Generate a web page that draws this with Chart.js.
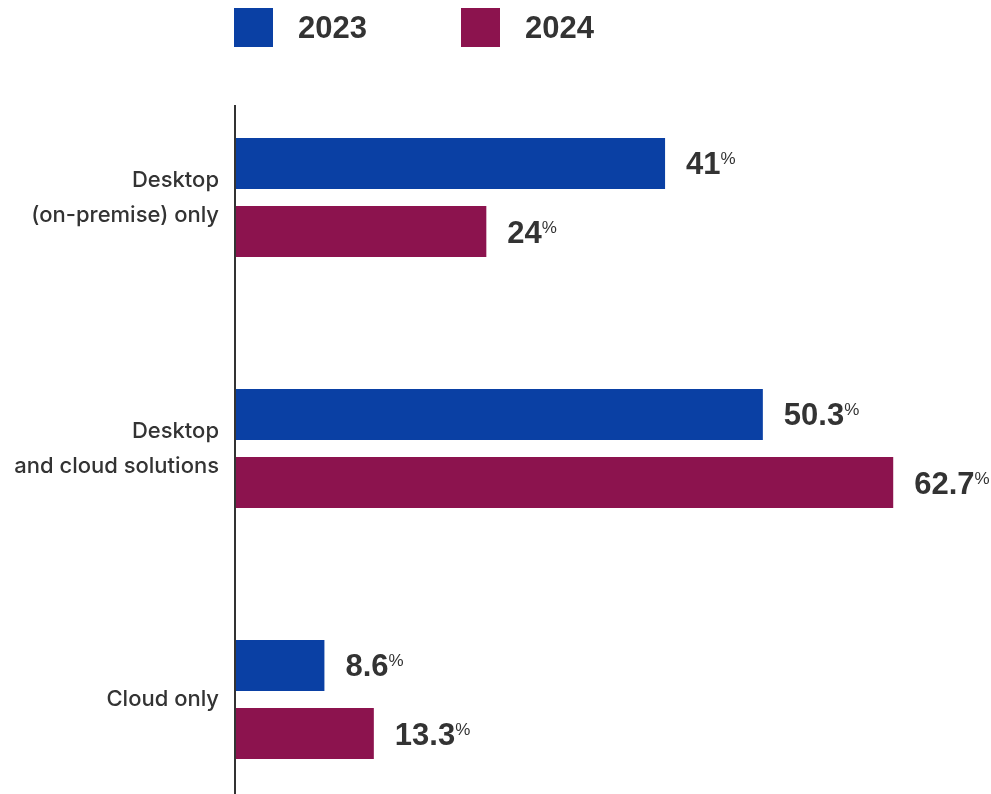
<!DOCTYPE html>
<html>
<head>
<meta charset="utf-8">
<title>Desktop vs cloud</title>
<script src="https://cdn.jsdelivr.net/npm/chart.js@4.4.1/dist/chart.umd.min.js"></script>
<style>
  html, body { margin: 0; padding: 0; background: #fff; overflow: hidden; }
  #wrap { position: relative; width: 991px; height: 830px; }
  #chart { display: block; }
  #legend { position: absolute; left: 234px; top: 8px; display: flex; }
  .item { display: flex; align-items: center; width: 227px; }
  .swatch { width: 39px; height: 39px; margin-right: 25px; }
  .item span { font: bold 31px "Liberation Sans", Arial, sans-serif; color: #333; line-height: 1; }
</style>
</head>
<body>
<div id="wrap">
  <canvas id="chart" width="991" height="830"></canvas>
  <div id="legend"></div>
</div>
<script>
const categories = [["Desktop", "(on-premise) only"], ["Desktop", "and cloud solutions"], ["Cloud only"]];
const years = ["2023", "2024"];
const values2023 = [41, 50.3, 8.6];
const values2024 = [24, 62.7, 13.3];
const colors = ["#0a40a4", "#8c134e"];
const textColor = "#333";

// legend boxes above the plot
let legend = document.getElementById("legend");
years.forEach((y, i) => {
  let item = document.createElement("div");
  item.className = "item";
  item.innerHTML = `<div class="swatch" style="background:${colors[i]}"></div><span>${y}</span>`;
  legend.appendChild(item);
});

// value + small raised % sign at the end of each bar
const valueLabels = {
  id: "valueLabels",
  afterDatasetsDraw(chart) {
    let ctx = chart.ctx;
    ctx.save();
    ctx.fillStyle = textColor;
    ctx.textAlign = "left";
    ctx.textBaseline = "alphabetic";
    chart.data.datasets.forEach((ds, di) => {
      chart.getDatasetMeta(di).data.forEach((bar, i) => {
        let txt = String(ds.data[i]);
        let x = bar.x + 21;
        let y = bar.y + 11;
        ctx.font = 'bold 31px "Liberation Sans", Arial, sans-serif';
        ctx.fillText(txt, x, y);
        let w = ctx.measureText(txt).width;
        ctx.font = '17px "Liberation Sans", Arial, sans-serif';
        ctx.fillText("%", x + w, bar.y + 1);
      });
    });
    ctx.restore();
  }
};

// vertical axis line, starting a little below the top of the plot
const axisLine = {
  id: "axisLine",
  afterDraw(chart) {
    let a = chart.chartArea;
    let ctx = chart.ctx;
    ctx.save();
    ctx.strokeStyle = textColor;
    ctx.lineWidth = 2;
    ctx.beginPath();
    ctx.moveTo(a.left + 1, a.top + 33);
    ctx.lineTo(a.left + 1, a.bottom);
    ctx.stroke();
    ctx.restore();
  }
};

let graph = new Chart(document.getElementById("chart"), {
  type: "bar",
  data: {
    labels: categories,
    datasets: [
      { label: years[0], data: values2023, backgroundColor: colors[0] },
      { label: years[1], data: values2024, backgroundColor: colors[1] },
    ],
  },
  options: {
    indexAxis: "y",
    responsive: false,
    animation: false,
    categoryPercentage: 0.542,
    barPercentage: 0.75,
    layout: { padding: { top: 72, bottom: 5, left: 0, right: 0 } },
    plugins: {
      legend: { display: false },
      tooltip: { enabled: false },
    },
    scales: {
      x: { display: false, min: 0, max: 72 },
      y: {
        grid: { display: false, drawTicks: false },
        border: { display: false },
        ticks: {
          color: textColor,
          padding: 15,
          font: { family: "Inter", size: 22, weight: 500, lineHeight: 1.6 },
        },
        afterFit(scale) {
          scale.width = 234;
          scale.paddingTop = 0;
          scale.paddingBottom = 0;
        },
      },
    },
  },
  plugins: [valueLabels, axisLine],
});
</script>
</body>
</html>
